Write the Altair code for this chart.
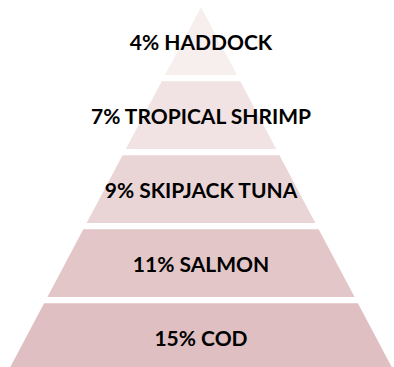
import altair as alt
import pandas as pd

# ---- data ----
names = ["HADDOCK", "TROPICAL SHRIMP", "SKIPJACK TUNA", "SALMON", "COD"]
shares = [4, 7, 9, 11, 15]
colors = ["#f7eeee", "#f1e3e3", "#ead5d6", "#e3c7c8", "#dfbfc1"]

# ---- layout constants (pixels) ----
W, H = 394, 367
CX = 201.0        # pyramid centre
APEX = 7.2        # apex y
K = 0.53          # half-width per pixel of height
PERIOD = 74.0     # layer + gap
LAYER_H = 67.8    # layer height
TEXT_SHIFT = 3.0

rows = []
labels = []
for i, (n, s) in enumerate(zip(names, shares)):
    bot = APEX + LAYER_H + i * PERIOD
    top = APEX if i == 0 else bot - LAYER_H
    for yy in (top, bot):
        hw = K * (yy - APEX)
        rows.append({"layer": n, "y": yy, "xl": CX - hw, "xr": CX + hw})
    labels.append({"layer": n, "label": f"{s}% {n}", "x": CX,
                   "y": (top + bot) / 2 + TEXT_SHIFT})

poly = pd.DataFrame(rows)
lab = pd.DataFrame(labels)

xs = alt.Scale(domain=[0, W], range=[0, W])
ys = alt.Scale(domain=[0, H], range=[0, H])

areas = alt.Chart(poly).mark_area(orient="horizontal", clip=True).encode(
    y=alt.Y("y:Q", scale=ys, axis=None),
    x=alt.X("xl:Q", scale=xs, axis=None),
    x2="xr:Q",
    detail="layer:N",
    color=alt.Color("layer:N", scale=alt.Scale(domain=names, range=colors), legend=None),
)

texts = alt.Chart(lab).mark_text(
    font="Lato", fontWeight="bold", fontSize=21, color="#000000",
    align="center", baseline="middle",
).encode(
    x=alt.X("x:Q", scale=xs, axis=None),
    y=alt.Y("y:Q", scale=ys, axis=None),
    text="label:N",
)

chart = alt.layer(areas, texts).properties(
    width=W, height=H, padding=0, autosize=alt.AutoSizeParams(type="none"),
    background="white",
).configure_view(stroke=None)

chart.save("out.html", embed_options={"renderer": "svg", "actions": False})
